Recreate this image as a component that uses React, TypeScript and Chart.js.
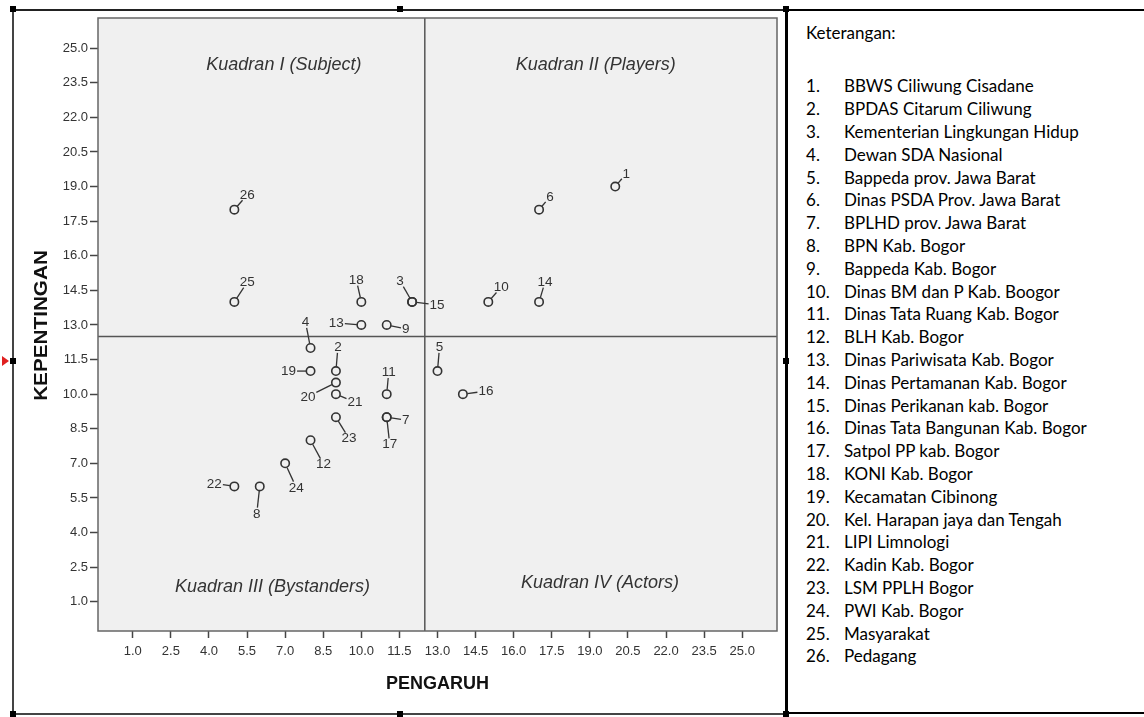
import React, { useEffect, useRef } from "react";
import { Chart, registerables } from "chart.js";

Chart.register(...registerables);

// ---- data ----
const stakeholderIds = [
  1, 2, 3, 4, 5, 6, 7, 8, 9, 10, 11, 12, 13, 14, 15, 16, 17, 18, 19, 20, 21, 22, 23, 24, 25, 26,
];
const stakeholderNames = [
  "BBWS Ciliwung Cisadane",
  "BPDAS Citarum Ciliwung",
  "Kementerian Lingkungan Hidup",
  "Dewan SDA Nasional",
  "Bappeda prov. Jawa Barat",
  "Dinas PSDA Prov. Jawa Barat",
  "BPLHD prov. Jawa Barat",
  "BPN Kab. Bogor",
  "Bappeda Kab. Bogor",
  "Dinas BM dan P Kab. Boogor",
  "Dinas Tata Ruang Kab. Bogor",
  "BLH Kab. Bogor",
  "Dinas Pariwisata Kab. Bogor",
  "Dinas Pertamanan Kab. Bogor",
  "Dinas Perikanan kab. Bogor",
  "Dinas Tata Bangunan Kab. Bogor",
  "Satpol PP kab. Bogor",
  "KONI Kab. Bogor",
  "Kecamatan Cibinong",
  "Kel. Harapan jaya dan Tengah",
  "LIPI Limnologi",
  "Kadin Kab. Bogor",
  "LSM PPLH Bogor",
  "PWI Kab. Bogor",
  "Masyarakat",
  "Pedagang",
];
const pengaruh = [20, 9, 12, 8, 13, 17, 11, 6, 11, 15, 11, 8, 10, 17, 12, 14, 11, 10, 8, 9, 9, 5, 9, 7, 5, 5];
const kepentingan = [19, 11, 14, 12, 11, 18, 9, 6, 13, 14, 10, 8, 13, 14, 14, 10, 9, 14, 11, 10.5, 10, 6, 9, 7, 14, 18];

const xTickValues = [1.0, 2.5, 4.0, 5.5, 7.0, 8.5, 10.0, 11.5, 13.0, 14.5, 16.0, 17.5, 19.0, 20.5, 22.0, 23.5, 25.0];
const yTickValues = [1.0, 2.5, 4.0, 5.5, 7.0, 8.5, 10.0, 11.5, 13.0, 14.5, 16.0, 17.5, 19.0, 20.5, 22.0, 23.5, 25.0];

const quadrantSplitX = 12.5;
const quadrantSplitY = 12.5;
const quadrantNames = ["Kuadran I (Subject)", "Kuadran II (Players)", "Kuadran III (Bystanders)", "Kuadran IV (Actors)"];

const xTitle = "PENGARUH";
const yTitle = "KEPENTINGAN";
const legendTitle = "Keterangan:";

// ---- layout / style ----
const X_MIN = -0.37;
const X_MAX = 26.37;
const Y_MIN = -0.27;
const Y_MAX = 26.31;

const quadrantLabelAnchors: [number, number][] = [
  [6.95, 24.28],
  [19.23, 24.28],
  [6.5, 1.63],
  [19.4, 1.8],
];

// pixel offsets of each point label from its marker (by id)
const labelOffsets: Record<number, [number, number]> = {
  1: [11, -13], 2: [2, -24], 3: [-12, -21], 4: [-5, -26], 5: [2, -24], 6: [11, -13],
  7: [19, 3], 8: [-3, 27], 9: [19, 4], 10: [13, -15], 11: [2, -22], 12: [13, 24],
  13: [-25, -2], 14: [6, -20], 15: [25, 3], 16: [23, -3], 17: [3, 27], 18: [-5, -22],
  19: [-22, 0], 20: [-28, 14], 21: [19, 8], 22: [-20, -3], 23: [13, 21], 24: [11, 24],
  25: [13, -20], 26: [13, -15],
};

const TEXT = "#333333";
const FONT = "'Liberation Sans', Arial, sans-serif";

const overlayPlugin = {
  id: "overlay",
  beforeDraw(chart: any) {
    const { ctx, chartArea: a } = chart;
    ctx.save();
    ctx.fillStyle = "#f0f0f0";
    ctx.fillRect(a.left, a.top, a.right - a.left, a.bottom - a.top);
    ctx.restore();
  },
  beforeDatasetsDraw(chart: any) {
    const { ctx, chartArea: a, scales } = chart;
    const px = scales.x.getPixelForValue(quadrantSplitX);
    const py = scales.y.getPixelForValue(quadrantSplitY);
    ctx.save();
    ctx.strokeStyle = "#555";
    ctx.lineWidth = 1.5;
    ctx.beginPath();
    ctx.moveTo(px, a.top);
    ctx.lineTo(px, a.bottom);
    ctx.moveTo(a.left, py);
    ctx.lineTo(a.right, py);
    ctx.stroke();
    ctx.strokeStyle = "#666";
    ctx.strokeRect(a.left, a.top, a.right - a.left, a.bottom - a.top);

    ctx.fillStyle = TEXT;
    ctx.font = `italic 18px ${FONT}`;
    ctx.textAlign = "center";
    ctx.textBaseline = "middle";
    quadrantNames.forEach((name, i) => {
      const [qx, qy] = quadrantLabelAnchors[i];
      ctx.fillText(name, scales.x.getPixelForValue(qx), scales.y.getPixelForValue(qy));
    });
    ctx.restore();
  },
  afterDatasetsDraw(chart: any) {
    const { ctx, scales } = chart;
    ctx.save();
    ctx.font = `13.5px ${FONT}`;
    ctx.fillStyle = TEXT;
    ctx.strokeStyle = "#333";
    ctx.lineWidth = 1.3;
    ctx.textAlign = "center";
    ctx.textBaseline = "middle";
    const r = 4.5;
    stakeholderIds.forEach((id, i) => {
      const cx = scales.x.getPixelForValue(pengaruh[i]);
      const cy = scales.y.getPixelForValue(kepentingan[i]);
      const [ox, oy] = labelOffsets[id];
      const label = String(id);
      const w = ctx.measureText(label).width;
      const dist = Math.hypot(ox, oy);
      const dx = ox / dist;
      const dy = oy / dist;
      const tx = Math.abs(dx) > 1e-6 ? (w / 2) / Math.abs(dx) : Infinity;
      const ty = Math.abs(dy) > 1e-6 ? 4.8 / Math.abs(dy) : Infinity;
      const reach = Math.min(tx, ty) + 1;
      const endD = dist - reach;
      if (endD > r) {
        ctx.beginPath();
        ctx.moveTo(cx + dx * r, cy + dy * r);
        ctx.lineTo(cx + dx * endD, cy + dy * endD);
        ctx.stroke();
      }
      ctx.fillText(label, cx + ox, cy + oy + 0.5);
    });
    ctx.restore();
  },
  afterDraw(chart: any) {
    const { ctx, chartArea: a } = chart;
    ctx.save();
    ctx.fillStyle = "#111";
    ctx.textAlign = "center";
    ctx.textBaseline = "middle";
    ctx.font = `bold 18px ${FONT}`;
    ctx.fillText(xTitle, (a.left + a.right) / 2, 684);
    ctx.translate(42, (a.top + a.bottom) / 2 + 1);
    ctx.rotate(-Math.PI / 2);
    ctx.scale(1.15, 1);
    ctx.fillText(yTitle, 0, 0);
    ctx.restore();
  },
};

export default function App() {
  const ref = useRef<HTMLCanvasElement>(null);

  useEffect(() => {
    const canvas = ref.current;
    if (!canvas) return;
    const tickFont = { family: FONT, size: 13 };
    const chart = new Chart(canvas, {
      type: "scatter",
      data: {
        datasets: [
          {
            label: "Stakeholder",
            data: pengaruh.map((x, i) => ({ x, y: kepentingan[i] })),
            pointRadius: 4.2,
            pointHoverRadius: 4.2,
            pointBorderWidth: 1.6,
            pointBorderColor: "#333",
            pointBackgroundColor: "rgba(0,0,0,0)",
          },
        ],
      },
      options: {
        responsive: false,
        animation: false,
        events: [],
        layout: { padding: { top: 18, right: 9, left: 0, bottom: 0 } },
        plugins: { legend: { display: false }, tooltip: { enabled: false } },
        scales: {
          x: {
            type: "linear",
            min: X_MIN,
            max: X_MAX,
            afterBuildTicks: (s: any) => {
              s.ticks = xTickValues.map((v) => ({ value: v }));
            },
            afterFit: (s: any) => {
              s.height = 86;
            },
            grid: { drawOnChartArea: false, tickLength: 7, color: "#444", tickWidth: 1.5 },
            border: { display: false },
            ticks: {
              font: tickFont,
              color: TEXT,
              padding: 6,
              maxRotation: 0,
              autoSkip: false,
              callback: (v: any) => Number(v).toFixed(1),
            },
          },
          y: {
            type: "linear",
            min: Y_MIN,
            max: Y_MAX,
            afterBuildTicks: (s: any) => {
              s.ticks = yTickValues.map((v) => ({ value: v }));
            },
            afterFit: (s: any) => {
              s.width = 98;
            },
            grid: { drawOnChartArea: false, tickLength: 8, color: "#444", tickWidth: 1.5 },
            border: { display: false },
            ticks: {
              font: tickFont,
              color: TEXT,
              padding: 2,
              autoSkip: false,
              callback: (v: any) => Number(v).toFixed(1),
            },
          },
        },
      },
      plugins: [overlayPlugin],
    } as any);
    return () => chart.destroy();
  }, []);

  const handle = (x: number, y: number, key: string) => (
    <div
      key={key}
      style={{ position: "absolute", left: x - 3, top: y - 3, width: 6, height: 6, background: "#000" }}
    />
  );

  const legendFont = "Lato, 'Open Sans', sans-serif";
  const legendSize = 17;

  return (
    <div
      style={{
        position: "absolute",
        left: 0,
        top: 0,
        width: 1144,
        height: 717,
        background: "#fff",
        overflow: "hidden",
      }}
    >
      <canvas
        ref={ref}
        width={786}
        height={717}
        style={{ position: "absolute", left: 0, top: 0, width: 786, height: 717 }}
      />
      {/* image frame */}
      <div style={{ position: "absolute", left: 13, top: 9, width: 773, height: 1.5, background: "#222" }} />
      <div style={{ position: "absolute", left: 12, top: 9, width: 1.5, height: 705, background: "#444" }} />
      <div style={{ position: "absolute", left: 13, top: 713, width: 773, height: 1.5, background: "#444" }} />
      {/* legend box */}
      <div style={{ position: "absolute", left: 785, top: 9, width: 2.5, height: 705, background: "#000" }} />
      <div style={{ position: "absolute", left: 786, top: 9, width: 358, height: 1.5, background: "#000" }} />
      <div style={{ position: "absolute", left: 786, top: 712, width: 358, height: 2, background: "#000" }} />
      {/* selection handles */}
      {handle(13, 9, "h1")}
      {handle(400, 9, "h2")}
      {handle(786, 9, "h3")}
      {handle(13, 361, "h4")}
      {handle(786, 361, "h5")}
      {handle(13, 714, "h6")}
      {handle(400, 714, "h7")}
      {handle(786, 714, "h8")}
      <div
        style={{
          position: "absolute",
          left: 2,
          top: 356,
          width: 0,
          height: 0,
          borderTop: "5px solid transparent",
          borderBottom: "5px solid transparent",
          borderLeft: "7px solid #e02020",
        }}
      />
      {/* legend text */}
      <div
        style={{
          position: "absolute",
          left: 806,
          top: 33 - 11.4,
          height: 22.8,
          lineHeight: "22.8px",
          fontFamily: legendFont,
          fontSize: legendSize,
          color: "#000",
          whiteSpace: "nowrap",
        }}
      >
        {legendTitle}
      </div>
      {stakeholderNames.map((name, i) => (
        <div
          key={name}
          style={{
            position: "absolute",
            left: 806,
            top: 86.7 - 11.4 + i * 22.8,
            height: 22.8,
            lineHeight: "22.8px",
            fontFamily: legendFont,
            fontSize: legendSize,
            color: "#000",
            whiteSpace: "nowrap",
          }}
        >
          <span style={{ display: "inline-block", width: 38 }}>{stakeholderIds[i]}.</span>
          <span>{name}</span>
        </div>
      ))}
    </div>
  );
}
